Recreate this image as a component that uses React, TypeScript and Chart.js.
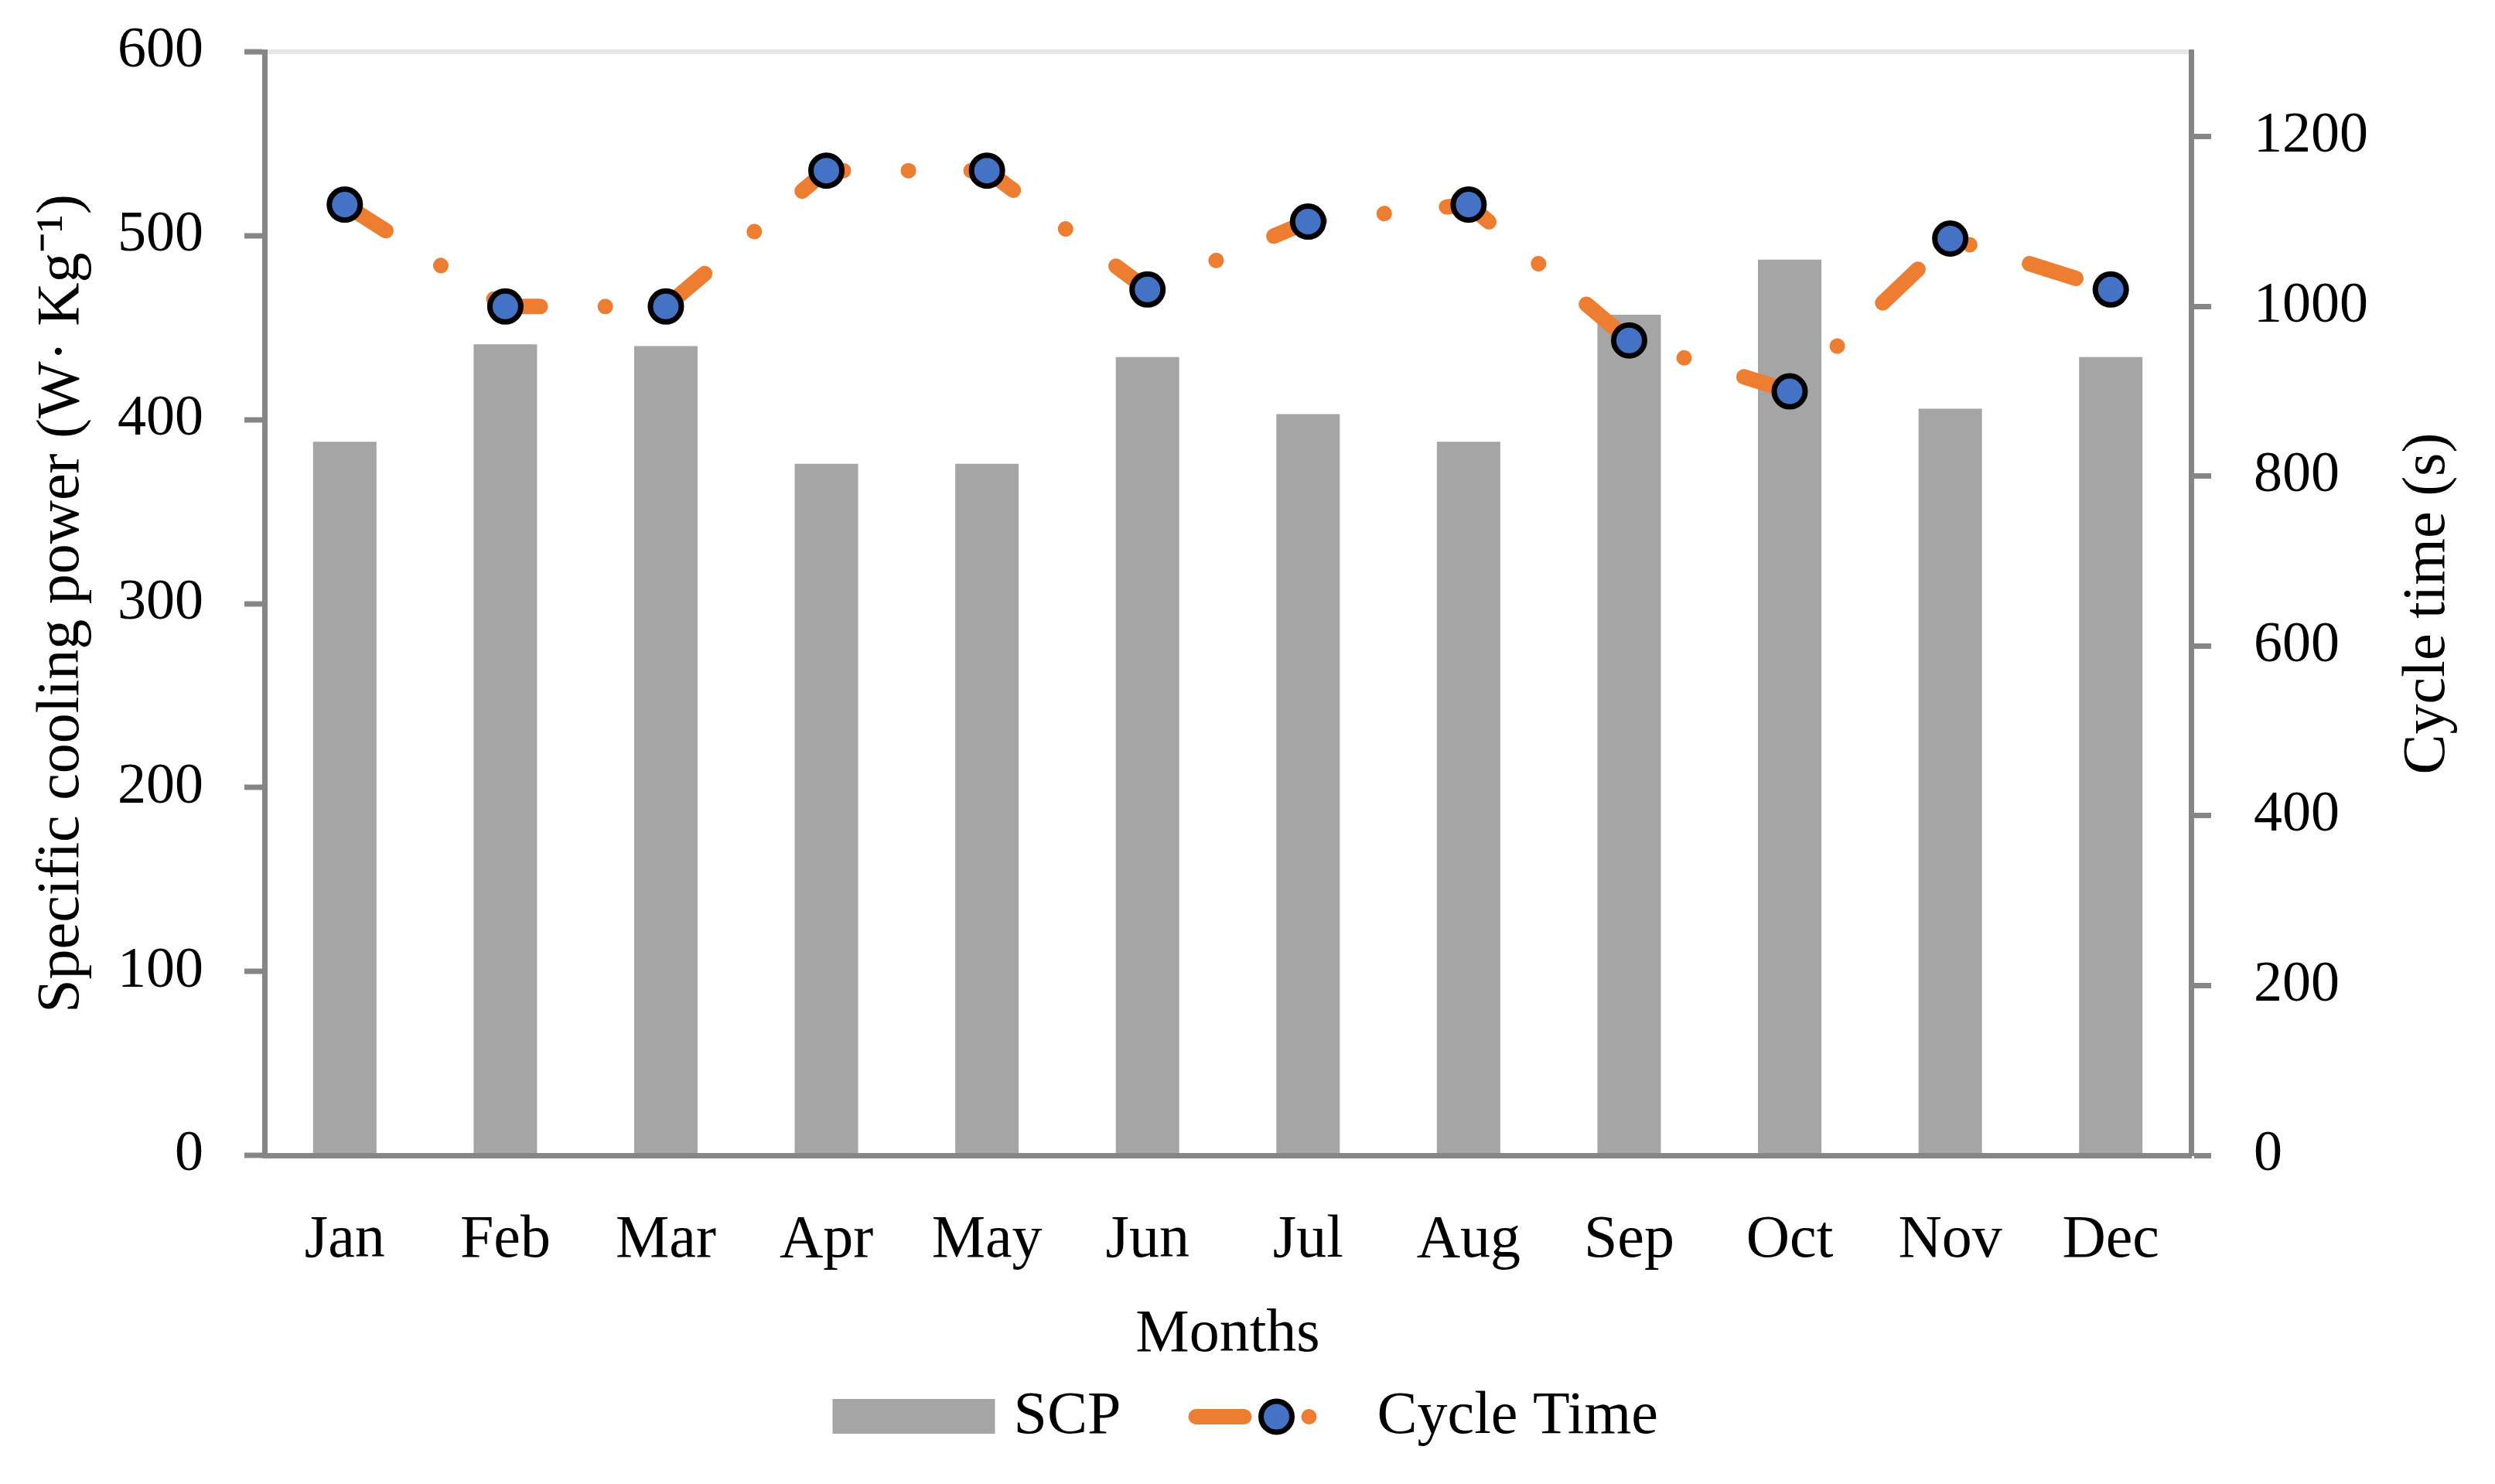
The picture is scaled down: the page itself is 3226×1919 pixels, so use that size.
import React, { useEffect, useRef } from 'react';
import { Chart, registerables } from 'chart.js';

Chart.register(...registerables);

const months = ['Jan', 'Feb', 'Mar', 'Apr', 'May', 'Jun', 'Jul', 'Aug', 'Sep', 'Oct', 'Nov', 'Dec'];
const scpValues = [388, 441, 440, 376, 376, 434, 403, 388, 457, 487, 406, 434];
const cycleTimeValues = [1120, 1000, 1000, 1160, 1160, 1020, 1100, 1120, 960, 900, 1080, 1020];
const scpTicks = [0, 100, 200, 300, 400, 500, 600];
const cycleTicks = [0, 200, 400, 600, 800, 1000, 1200];

const FONT = "'Liberation Serif', 'Times New Roman', serif";
const AXIS_GRAY = '#868686';
const GRID_GRAY = '#e6e6e6';
const BAR_GRAY = '#a5a5a5';
const ORANGE = '#ed7d31';
const BLUE = '#4472c4';

const legendPlugin = {
  id: 'excelLegend',
  afterDraw(chart: any) {
    const { ctx, chartArea } = chart;
    const cx = (chartArea.left + chartArea.right) / 2;
    const y = 1832;
    ctx.save();
    // SCP swatch
    ctx.fillStyle = BAR_GRAY;
    ctx.fillRect(cx - 511, y - 23, 210, 45);
    ctx.fillStyle = '#000';
    ctx.font = `78px ${FONT}`;
    ctx.textBaseline = 'alphabetic';
    ctx.textAlign = 'left';
    ctx.fillText('SCP', cx - 277, 1853);
    ctx.fillText('Cycle Time', cx + 193, 1853);
    // Cycle time line sample
    ctx.strokeStyle = ORANGE;
    ctx.lineWidth = 20;
    ctx.lineCap = 'round';
    ctx.beginPath();
    ctx.moveTo(cx - 41, y);
    ctx.lineTo(cx + 21, y);
    ctx.stroke();
    ctx.beginPath();
    ctx.fillStyle = ORANGE;
    ctx.arc(cx + 105, y, 10, 0, Math.PI * 2);
    ctx.fill();
    ctx.beginPath();
    ctx.arc(cx + 63, y, 20, 0, Math.PI * 2);
    ctx.fillStyle = BLUE;
    ctx.fill();
    ctx.lineWidth = 7;
    ctx.strokeStyle = '#000';
    ctx.stroke();
    ctx.restore();

    // Right axis title, reading bottom-to-top like the left one
    ctx.save();
    ctx.translate(3140, (chartArea.top + chartArea.bottom) / 2);
    ctx.rotate(-Math.PI / 2);
    ctx.fillStyle = '#000';
    ctx.font = `78px ${FONT}`;
    ctx.textAlign = 'center';
    ctx.textBaseline = 'middle';
    ctx.fillText('Cycle time (s)', 0, 0);
    ctx.restore();
  },
};

export default function App() {
  const canvasRef = useRef<HTMLCanvasElement | null>(null);

  useEffect(() => {
    if (!canvasRef.current) return;
    const chart = new Chart(canvasRef.current, {
      type: 'bar',
      data: {
        labels: months,
        datasets: [
          {
            type: 'line',
            label: 'Cycle Time',
            data: cycleTimeValues,
            yAxisID: 'y1',
            borderColor: ORANGE,
            borderWidth: 20,
            borderDash: [63, 84, 0.1, 81],
            borderCapStyle: 'round',
            borderJoinStyle: 'round',
            pointRadius: 20,
            pointHoverRadius: 20,
            pointBorderWidth: 7,
            pointBackgroundColor: BLUE,
            pointBorderColor: '#000',
            tension: 0,
            fill: false,
            order: 0,
          } as any,
          {
            type: 'bar',
            label: 'SCP',
            data: scpValues,
            yAxisID: 'y',
            backgroundColor: BAR_GRAY,
            barPercentage: 0.395,
            categoryPercentage: 1,
            order: 1,
          } as any,
        ],
      },
      options: {
        animation: false,
        responsive: true,
        maintainAspectRatio: false,
        layout: { padding: { top: 67, bottom: 146, left: 0, right: 0 } },
        plugins: {
          legend: { display: false },
          tooltip: { enabled: false },
        },
        scales: {
          x: {
            type: 'category',
            offset: true,
            grid: { display: true, drawOnChartArea: false, drawTicks: false },
            border: { color: AXIS_GRAY, width: 7 },
            ticks: {
              color: '#000',
              font: { family: FONT, size: 78 },
              padding: 64,
              maxRotation: 0,
              autoSkip: false,
            },
            title: {
              display: true,
              text: 'Months',
              color: '#000',
              font: { family: FONT, size: 78 },
              padding: 0,
            },
            afterFit(scale: any) {
              scale.height = 279;
            },
          },
          y: {
            type: 'linear',
            position: 'left',
            min: 0,
            max: 600,
            afterBuildTicks(scale: any) {
              scale.ticks = scpTicks.map((v) => ({ value: v }));
            },
            grid: {
              color: (c: any) => (c.tick && c.tick.value === 600 ? GRID_GRAY : 'rgba(0,0,0,0)'),
              lineWidth: 6,
              tickColor: AXIS_GRAY,
              tickLength: 26,
              tickWidth: 7,
            },
            border: { color: AXIS_GRAY, width: 7 },
            ticks: {
              color: '#000',
              font: { family: FONT, size: 74 },
              padding: 53,
              callback: (v: any) => String(v),
            },
            title: {
              display: true,
              text: 'Specific cooling power (W· Kg⁻¹)',
              color: '#000',
              font: { family: FONT, size: 78 },
              padding: { top: 34, bottom: 0 },
            },
            afterFit(scale: any) {
              scale.width = 342;
              scale.paddingTop = 0;
              scale.paddingBottom = 0;
            },
          },
          y1: {
            type: 'linear',
            position: 'right',
            min: 0,
            max: 1300,
            afterBuildTicks(scale: any) {
              scale.ticks = cycleTicks.map((v) => ({ value: v }));
            },
            grid: {
              drawOnChartArea: false,
              color: AXIS_GRAY,
              tickColor: AXIS_GRAY,
              tickLength: 26,
              tickWidth: 7,
            },
            border: { color: AXIS_GRAY, width: 7 },
            ticks: {
              color: '#000',
              font: { family: FONT, size: 74 },
              padding: 55,
              callback: (v: any) => String(v),
            },
            title: { display: false },
            afterFit(scale: any) {
              scale.width = 393;
              scale.paddingTop = 0;
              scale.paddingBottom = 0;
            },
          },
        },
      } as any,
      plugins: [legendPlugin],
    });
    return () => chart.destroy();
  }, []);

  return (
    <div style={{ position: 'fixed', left: 0, top: 0, width: '3226px', height: '1919px', background: '#fff' }}>
      <canvas ref={canvasRef} />
    </div>
  );
}
